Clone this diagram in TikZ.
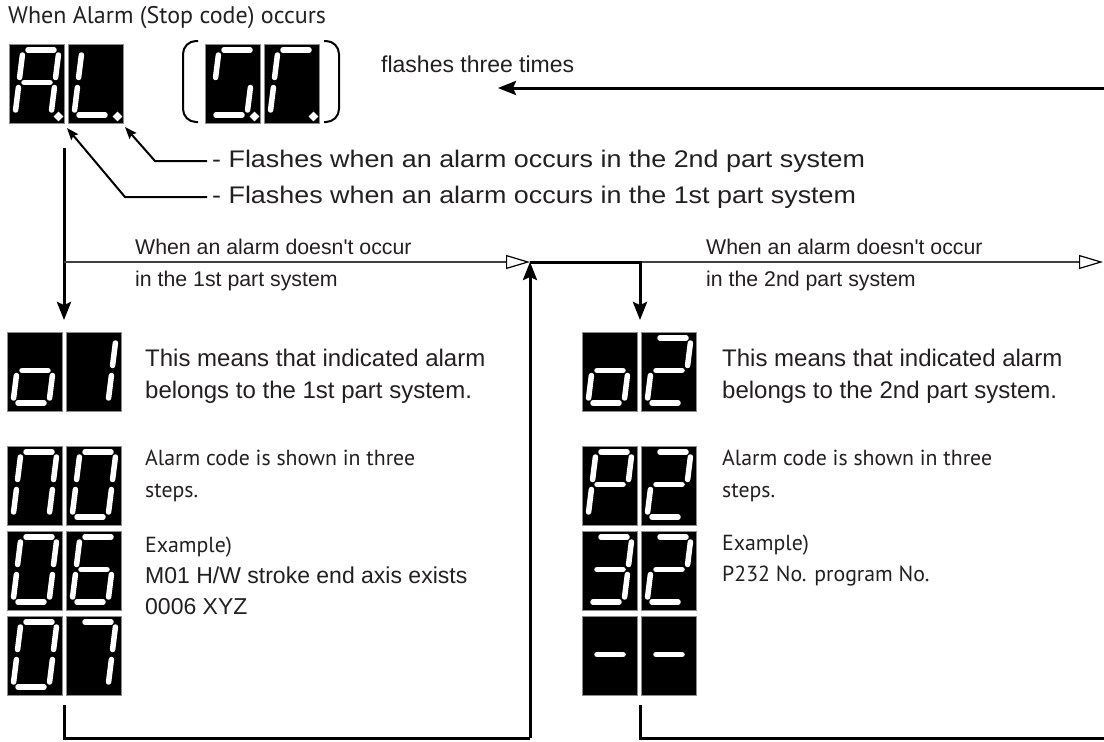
\documentclass[tikz,border=0pt]{standalone}
\usepackage{fontspec}
\setmainfont{Liberation Sans}
\newfontfamily\myriad{PT Sans}
\newfontfamily\wide[FakeStretch=1.12]{Liberation Sans}
\usetikzlibrary{arrows.meta}
\definecolor{txtgray}{RGB}{35,31,32}

% seven segment pieces (box 55 x 79, y down)
\def\sga{(19,6) -- (45,6)}
\def\sgb{(49.4,11) -- (46.6,33.5)}
\def\sgc{(45.4,43.5) -- (42.6,66)}
\def\sgd{(11,71) -- (37,71)}
\def\sge{(9.4,43.5) -- (6.6,66)}
\def\sgf{(13.4,11) -- (10.6,33.5)}
\def\sgg{(15,38.5) -- (41,38.5)}
\def\sgp{(49.5,72.5) circle (0.9)}
\newcommand{\segdigit}[3]{%
  \node[digbox] (#1) at (#2) {};
  \begin{scope}[shift={(#1.north west)}]
    \foreach \s in {#3} {\draw[seg] \s;}
  \end{scope}}

\begin{document}
\begin{tikzpicture}[x=1pt,y=-1pt,
  digbox/.style={fill=black,draw=black!45,line width=0.6pt,minimum width=55pt,
    minimum height=79pt,inner sep=0pt,anchor=north west},
  seg/.style={draw=white,line width=5.5pt,line cap=round},
  txt/.style={inner sep=0pt,anchor=west,align=left,text=txtgray},
  bigarr/.style={-{Stealth[length=18pt,width=14pt,inset=3pt]},line width=3pt},
  leadarr/.style={-{Stealth[length=12pt,width=9pt,inset=2pt]},line width=2pt,shorten <=5pt},
  thinarr/.style={-{Triangle[open,length=24pt,width=14pt,black]},line width=1.2pt,black!75},
  flow/.style={line width=3pt}
]
  \useasboundingbox (0,0) rectangle (1104,742);

  % Alarm display
  \node[txt,font=\myriad\fontsize{24}{28}\selectfont] (title) at (8,18) {When Alarm (Stop code) occurs};
  \segdigit{al1}{9,44}{\sga,\sgb,\sgc,\sge,\sgf,\sgg,\sgp}
  \segdigit{al2}{68,44}{\sgd,\sge,\sgf,\sgp}
  \segdigit{ct1}{205,44}{\sga,\sgf,\sgc,\sgd,\sgp}
  \segdigit{ct2}{264,44}{\sga,\sgf,\sge,\sgp}
  \draw[line width=2pt,rounded corners=13pt] (198,41) -- (183,41) -- (183,122) -- (198,122);
  \draw[line width=2pt,rounded corners=13pt] (324,41) -- (339,41) -- (339,122) -- (324,122);
  \node[txt,font=\fontsize{23}{28}\selectfont] (flash) at (381,64) {flashes three times};

  % Flashing notes
  \node[txt,font=\wide\fontsize{24}{30}\selectfont] (fl2) at (212,161) {- Flashes when an alarm occurs in the 2nd part system};
  \node[txt,font=\wide\fontsize{24}{30}\selectfont] (fl1) at (212,197) {- Flashes when an alarm occurs in the 1st part system};
  \coordinate (k2) at (155,161);
  \coordinate (tip2) at (125,127);
  \coordinate (k1) at (125,197);
  \coordinate (tip1) at (67,128);
  \draw[leadarr] (fl2.west) -- (k2) -- (tip2);
  \draw[leadarr] (fl1.west) -- (k1) -- (tip1);

  % 1st part system
  \node[txt,font=\fontsize{21.3}{32}\selectfont] (no1) at (135,265) {When an alarm doesn\textquotesingle t occur\\in the 1st part system};
  \segdigit{o1a}{7,332}{\sgc,\sgd,\sge,\sgg}
  \segdigit{o1b}{66,332}{\sgb,\sgc}
  \node[txt,font=\fontsize{24}{32}\selectfont] (mean1) at (145,376) {This means that indicated alarm\\belongs to the 1st part system.};
  \segdigit{m1a}{7,446}{\sga,\sgb,\sgc,\sge,\sgf}
  \segdigit{m1b}{66,446}{\sga,\sgb,\sgc,\sgd,\sge,\sgf}
  \segdigit{m2a}{7,531}{\sga,\sgb,\sgc,\sgd,\sge,\sgf}
  \segdigit{m2b}{66,531}{\sga,\sgc,\sgd,\sge,\sgf,\sgg}
  \segdigit{m3a}{7,616}{\sga,\sgb,\sgc,\sgd,\sge,\sgf}
  \segdigit{m3b}{66,616}{\sga,\sgb,\sgc}
  \node[txt,font=\myriad\fontsize{21.8}{32}\selectfont] (steps1) at (145,476) {Alarm code is shown in three\\steps.};
  \node[txt,font=\myriad\fontsize{21.8}{31}\selectfont] (ex1) at (145,576) {Example)\\{\normalfont\fontsize{23}{31}\selectfont M01 H/W stroke end axis exists}\\{\normalfont\fontsize{23}{31}\selectfont 0006 XYZ}};

  % 2nd part system
  \node[txt,font=\fontsize{21.3}{32}\selectfont] (no2) at (706,265) {When an alarm doesn\textquotesingle t occur\\in the 2nd part system};
  \segdigit{o2a}{582,332}{\sgc,\sgd,\sge,\sgg}
  \segdigit{o2b}{641,332}{\sga,\sgb,\sgd,\sge,\sgg}
  \node[txt,font=\fontsize{24}{32}\selectfont] (mean2) at (722,376) {This means that indicated alarm\\belongs to the 2nd part system.};
  \segdigit{p1a}{582,446}{\sga,\sgb,\sge,\sgf,\sgg}
  \segdigit{p1b}{641,446}{\sga,\sgb,\sgd,\sge,\sgg}
  \segdigit{p2a}{582,531}{\sga,\sgb,\sgc,\sgd,\sgg}
  \segdigit{p2b}{641,531}{\sga,\sgb,\sgd,\sge,\sgg}
  \segdigit{p3a}{582,616}{\sgg}
  \segdigit{p3b}{641,616}{\sgg}
  \node[txt,font=\myriad\fontsize{21.8}{32}\selectfont] (steps2) at (722,476) {Alarm code is shown in three\\steps.};
  \node[txt,font=\myriad\fontsize{21.8}{31}\selectfont] (ex2) at (722,561) {Example)\\P232 No. program No.};

  % Flow lines
  \coordinate (rtop) at (1104,88);
  \coordinate (rtip) at (498,88);
  \coordinate (d1top) at (64,148);
  \coordinate (d1tip) at (64,320);
  \coordinate (j1) at (64,262);
  \coordinate (j2) at (530,262);
  \coordinate (j3) at (640,262);
  \coordinate (j4) at (1103,262);
  \coordinate (d2tip) at (640,320);
  \coordinate (b0) at (64,705);
  \coordinate (b1) at (64,738);
  \coordinate (b2) at (530,738);
  \coordinate (b3) at (640,705);
  \coordinate (b4) at (640,738);
  \coordinate (b5) at (1104,738);
  \draw[bigarr] (rtop) -- (rtip);
  \draw[bigarr] (d1top) -- (d1tip);
  \draw[thinarr] (j1) -- (j2);
  \draw[thinarr] (j3) -- (j4);
  \draw[bigarr] (j2) -- (j3) -- (d2tip);
  \draw[bigarr] (b2) -- (j2);
  \draw[flow] (b0) -- (b1) -- (b2);
  \draw[flow] (b3) -- (b4) -- (b5);
\end{tikzpicture}
\end{document}
